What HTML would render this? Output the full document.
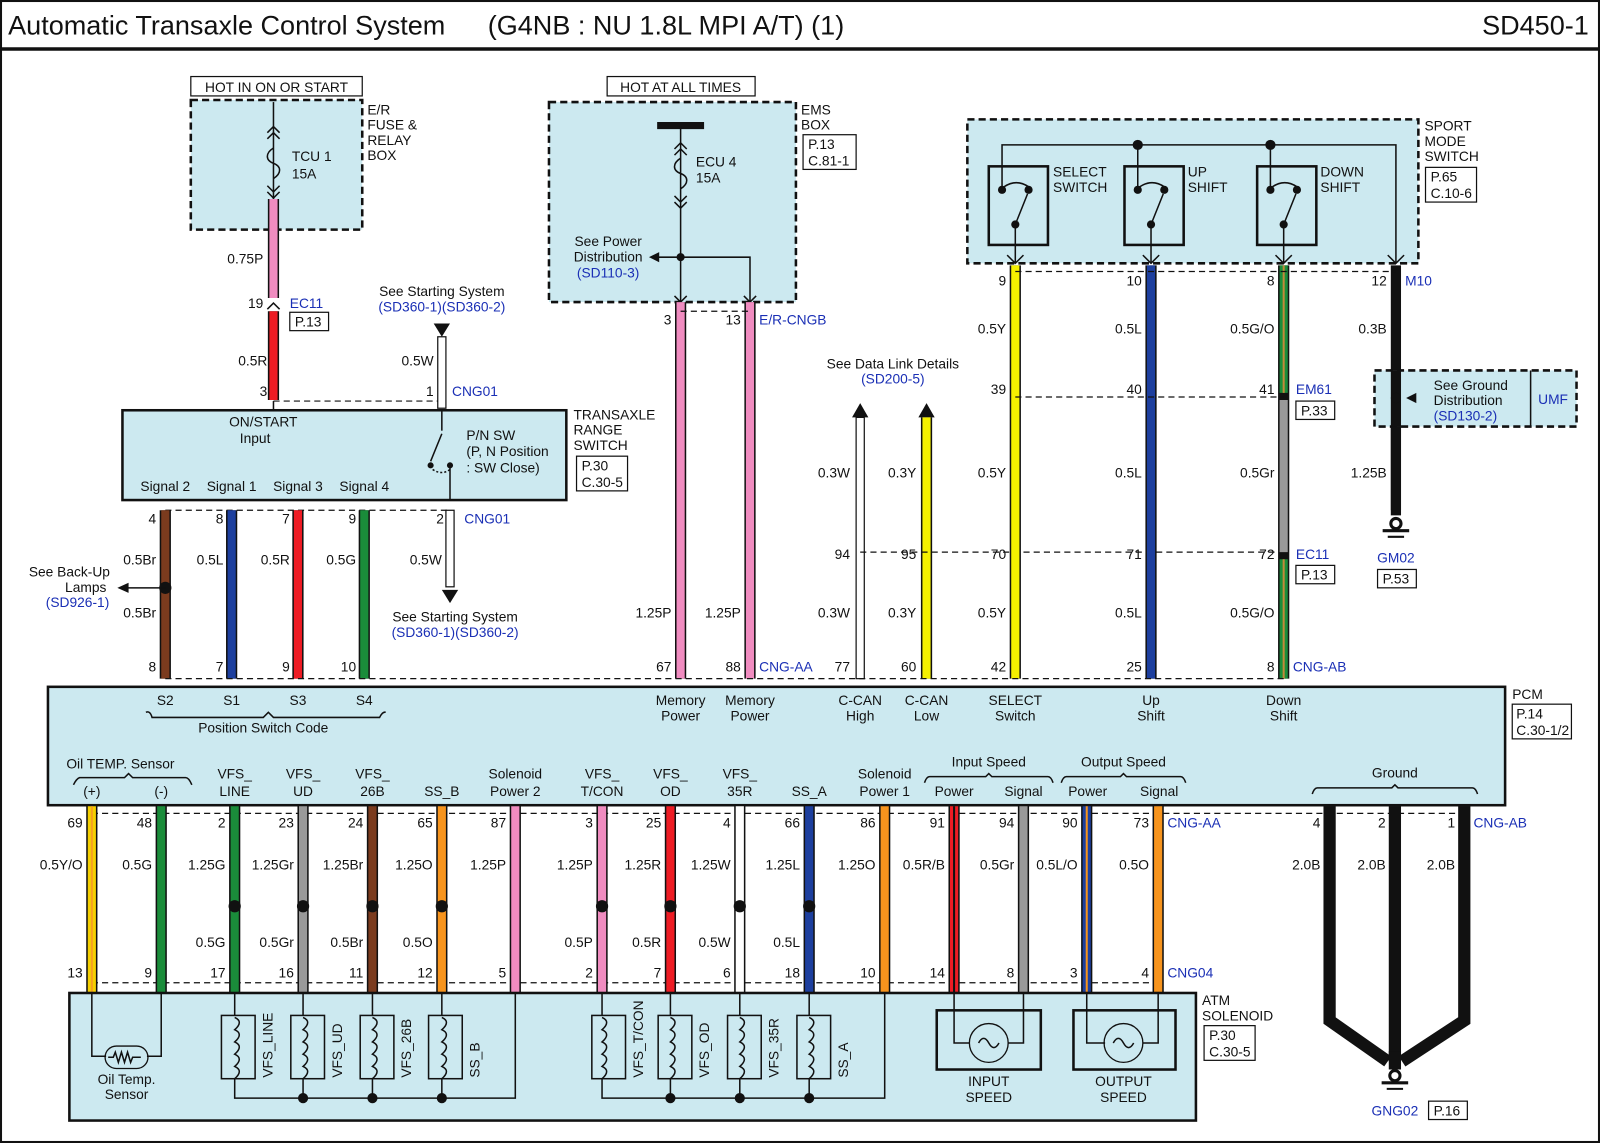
<!DOCTYPE html>
<html><head><meta charset="utf-8"><style>
html,body{margin:0;padding:0;background:#fff}
svg{display:block}
text{font-family:"Liberation Sans",sans-serif;font-size:13.5px;fill:#111}
.b{fill:#1a2fb5}
.m{text-anchor:middle}
.e{text-anchor:end}
.bx{fill:#cce9f0;stroke:#111;stroke-width:2.5;stroke-dasharray:7 4}
.sb{fill:#cce9f0;stroke:#111;stroke-width:2.5}
.dl{stroke:#111;stroke-width:1.2;stroke-dasharray:6 4;fill:none}
.tl{stroke:#111;stroke-width:1.5;fill:none}
.o{stroke:#111;stroke-width:11}
.ch{stroke:#111;stroke-width:1.5;fill:none}
</style></head><body>
<svg width="1600" height="1143" viewBox="0 0 1568 1120" preserveAspectRatio="none" xmlns="http://www.w3.org/2000/svg">
<rect x="1" y="1" width="1566" height="1118" fill="#fff" stroke="#111" stroke-width="2"/>
<text x="8" y="34" style="font-size:26.5px">Automatic Transaxle Control System</text>
<text x="478" y="34" style="font-size:26.5px">(G4NB : NU 1.8L MPI A/T) (1)</text>
<text x="1557" y="34" class="e" style="font-size:26.5px">SD450-1</text>
<line x1="0" y1="48" x2="1568" y2="48" stroke="#111" stroke-width="3.5"/>

<!-- E/R fuse box -->
<rect x="187" y="75" width="168" height="19" fill="#fff" stroke="#111" stroke-width="1.2"/>
<text x="271" y="90" class="m">HOT IN ON OR START</text>
<rect x="187" y="98" width="168" height="127" class="bx"/>
<text x="360" y="112">E/R</text><text x="360" y="127">FUSE &amp;</text><text x="360" y="142">RELAY</text><text x="360" y="157">BOX</text>
<line x1="268" y1="100" x2="268" y2="195" class="tl"/>
<path d="M262 130 l6 -6 l6 6 M262 136 l6 -6 l6 6 M262 188 l6 6 l6 -6 M262 182 l6 6 l6 -6" class="ch"/>
<path d="M268 145 c-8 5 -8 12 0 15 c8 3 8 10 0 15" class="tl"/>
<text x="286" y="158">TCU 1</text><text x="286" y="175">15A</text>

<!-- EMS box -->
<rect x="595" y="75" width="145" height="19" fill="#fff" stroke="#111" stroke-width="1.2"/>
<text x="667" y="90" class="m">HOT AT ALL TIMES</text>
<rect x="538" y="100" width="242" height="196" class="bx"/>
<text x="785" y="112">EMS</text><text x="785" y="127">BOX</text>
<rect x="787" y="132" width="52" height="34" fill="#fff" stroke="#111" stroke-width="1.2"/>
<text x="792" y="146">P.13</text><text x="792" y="162">C.81-1</text>
<line x1="644" y1="123" x2="690" y2="123" stroke="#111" stroke-width="7"/>
<line x1="667" y1="123" x2="667" y2="296" class="tl"/>
<path d="M661 146 l6 -6 l6 6 M661 152 l6 -6 l6 6 M661 198 l6 6 l6 -6 M661 192 l6 6 l6 -6" class="ch"/>
<path d="M667 155 c-8 5 -8 12 0 15 c8 3 8 10 0 15" class="tl"/>
<text x="682" y="163">ECU 4</text><text x="682" y="179">15A</text>
<circle cx="667" cy="252" r="4" fill="#111"/>
<path d="M667 252 H735 V296" class="tl"/>
<path d="M667 252 H645" class="tl"/><path d="M636 252 l10 -5 v10z" fill="#111"/>
<text x="596" y="241" class="m">See Power</text><text x="596" y="256" class="m">Distribution</text><text x="596" y="272" class="m b">(SD110-3)</text>
<path d="M661 290 l6 6 l6 -6 M729 290 l6 6 l6 -6" class="ch"/>

<!-- top wires left -->
<line x1="268" y1="195" x2="268" y2="292" class="o"/><line x1="268" y1="195" x2="268" y2="292" stroke="#f08cc0" stroke-width="8"/>
<text x="258" y="258" class="e">0.75P</text>
<text x="258" y="302" class="e">19</text><text x="284" y="302" class="b">EC11</text>
<rect x="284" y="306" width="38" height="18" fill="#fff" stroke="#111" stroke-width="1.2"/><text x="289" y="320">P.13</text>
<line x1="268" y1="305" x2="268" y2="392" class="o"/><line x1="268" y1="305" x2="268" y2="392" stroke="#ee1c24" stroke-width="8"/>
<text x="262" y="358" class="e">0.5R</text>
<text x="262" y="388" class="e">3</text>
<line x1="268" y1="393" x2="433" y2="393" class="dl"/>
<path d="M262 303 l6 -6 l6 6" class="ch"/>
<text x="433" y="290" class="m">See Starting System</text><text x="433" y="305" class="m b">(SD360-1)(SD360-2)</text>
<path d="M425 317 h16 l-8 13z" fill="#111"/>
<rect x="429" y="330" width="8" height="70" fill="#fff" stroke="#111" stroke-width="1.2"/>
<text x="425" y="358" class="e">0.5W</text>
<text x="425" y="388" class="e">1</text><text x="443" y="388" class="b">CNG01</text>

<!-- Transaxle range switch -->
<rect x="120" y="402" width="435" height="88" class="sb"/>
<text x="258" y="418" class="m">ON/START</text><text x="250" y="434" class="m">Input</text>
<line x1="268" y1="393" x2="268" y2="402" class="tl"/>
<text x="457" y="431">P/N SW</text><text x="457" y="447">(P, N Position</text><text x="457" y="463">: SW Close)</text>
<line x1="433" y1="402" x2="433" y2="422" class="tl"/>
<path d="M433 425 L422 452" class="tl"/><circle cx="422" cy="456" r="3" fill="#111"/><circle cx="441" cy="456" r="3" fill="#111"/>
<path d="M424 460 q9 6 17 0" class="tl" stroke-dasharray="2 2"/>
<line x1="441" y1="456" x2="441" y2="490" class="tl"/>
<text x="162" y="481" class="m">Signal 2</text><text x="227" y="481" class="m">Signal 1</text><text x="292" y="481" class="m">Signal 3</text><text x="357" y="481" class="m">Signal 4</text>
<text x="562" y="411">TRANSAXLE</text><text x="562" y="426">RANGE</text><text x="562" y="441">SWITCH</text>
<rect x="565" y="447" width="50" height="34" fill="#fff" stroke="#111" stroke-width="1.2"/><text x="570" y="461">P.30</text><text x="570" y="477">C.30-5</text>
<line x1="162" y1="500" x2="441" y2="500" class="dl"/>
<rect x="437" y="500" width="8" height="75" fill="#fff" stroke="#111" stroke-width="1.2"/>
<path d="M433 578 h16 l-8 13z" fill="#111"/>
<text x="433" y="553" class="e">0.5W</text>
<text x="435" y="513" class="e">2</text><text x="455" y="513" class="b">CNG01</text>
<text x="446" y="609" class="m">See Starting System</text><text x="446" y="624" class="m b">(SD360-1)(SD360-2)</text>

<!-- signal wires -->
<g>
<line x1="162" y1="500" x2="162" y2="665" class="o"/><line x1="162" y1="500" x2="162" y2="665" stroke="#7b3b1e" stroke-width="8"/>
<line x1="227" y1="500" x2="227" y2="665" class="o"/><line x1="227" y1="500" x2="227" y2="665" stroke="#1d3f9e" stroke-width="8"/>
<line x1="292" y1="500" x2="292" y2="665" class="o"/><line x1="292" y1="500" x2="292" y2="665" stroke="#ee1c24" stroke-width="8"/>
<line x1="357" y1="500" x2="357" y2="665" class="o"/><line x1="357" y1="500" x2="357" y2="665" stroke="#1a8c3a" stroke-width="8"/>
</g>
<text x="153" y="513" class="e">4</text><text x="219" y="513" class="e">8</text><text x="284" y="513" class="e">7</text><text x="349" y="513" class="e">9</text>
<text x="153" y="553" class="e">0.5Br</text><text x="219" y="553" class="e">0.5L</text><text x="284" y="553" class="e">0.5R</text><text x="349" y="553" class="e">0.5G</text>
<text x="153" y="605" class="e">0.5Br</text>
<circle cx="162" cy="576" r="6" fill="#111"/><line x1="162" y1="576" x2="125" y2="576" class="tl"/><path d="M115 576 l11 -5 v10z" fill="#111"/>
<text x="68" y="565" class="m">See Back-Up</text><text x="84" y="580" class="m">Lamps</text><text x="76" y="595" class="m b">(SD926-1)</text>
<text x="153" y="658" class="e">8</text><text x="219" y="658" class="e">7</text><text x="284" y="658" class="e">9</text><text x="349" y="658" class="e">10</text>

<!-- memory power wires -->
<line x1="667" y1="296" x2="667" y2="665" class="o"/><line x1="667" y1="296" x2="667" y2="665" stroke="#f08cc0" stroke-width="8"/>
<line x1="735" y1="296" x2="735" y2="665" class="o"/><line x1="735" y1="296" x2="735" y2="665" stroke="#f08cc0" stroke-width="8"/>
<text x="658" y="318" class="e">3</text><text x="726" y="318" class="e">13</text><text x="744" y="318" class="b">E/R-CNGB</text>
<line x1="667" y1="305" x2="735" y2="305" class="dl"/>
<text x="658" y="605" class="e">1.25P</text><text x="726" y="605" class="e">1.25P</text>
<text x="658" y="658" class="e">67</text><text x="726" y="658" class="e">88</text><text x="744" y="658" class="b">CNG-AA</text>

<!-- data link -->
<text x="875" y="361" class="m">See Data Link Details</text><text x="875" y="376" class="m b">(SD200-5)</text>
<path d="M835 409 h16 l-8 -14z M900 409 h16 l-8 -14z" fill="#111"/>
<rect x="839" y="409" width="8" height="256" fill="#fff" stroke="#111" stroke-width="1.2"/>
<line x1="908" y1="409" x2="908" y2="665" class="o"/><line x1="908" y1="409" x2="908" y2="665" stroke="#f5f000" stroke-width="8"/>
<line x1="843" y1="541" x2="1258" y2="541" class="dl"/>
<text x="833" y="468" class="e">0.3W</text><text x="898" y="468" class="e">0.3Y</text>
<text x="833" y="548" class="e">94</text><text x="898" y="548" class="e">95</text>
<text x="833" y="605" class="e">0.3W</text><text x="898" y="605" class="e">0.3Y</text>
<text x="833" y="658" class="e">77</text><text x="898" y="658" class="e">60</text>

<!-- sport mode switch -->
<rect x="948" y="117" width="442" height="141" class="bx"/>
<text x="1396" y="128">SPORT</text><text x="1396" y="143">MODE</text><text x="1396" y="158">SWITCH</text>
<rect x="1397" y="164" width="50" height="34" fill="#fff" stroke="#111" stroke-width="1.2"/><text x="1402" y="178">P.65</text><text x="1402" y="194">C.10-6</text>
<path d="M1368 258 V142 H982 V186" class="tl"/>
<circle cx="1115" cy="142" r="5" fill="#111"/><circle cx="1245" cy="142" r="5" fill="#111"/>
<line x1="1115" y1="142" x2="1115" y2="186" class="tl"/><line x1="1245" y1="142" x2="1245" y2="186" class="tl"/>
<g fill="none" stroke="#111" stroke-width="2.5">
<rect x="969" y="163" width="58" height="77"/><rect x="1102" y="163" width="58" height="77"/><rect x="1232" y="163" width="58" height="77"/>
</g>
<g>
<circle cx="982" cy="186" r="4" fill="#111"/><circle cx="1008" cy="186" r="4" fill="#111"/><circle cx="995" cy="220" r="4" fill="#111"/>
<path d="M995 220 L1007 190 M984 183 q12 -8 24 0" class="tl"/><line x1="995" y1="220" x2="995" y2="258" class="tl"/>
<circle cx="1115" cy="186" r="4" fill="#111"/><circle cx="1141" cy="186" r="4" fill="#111"/><circle cx="1128" cy="220" r="4" fill="#111"/>
<path d="M1128 220 L1140 190 M1117 183 q12 -8 24 0" class="tl"/><line x1="1128" y1="220" x2="1128" y2="258" class="tl"/>
<circle cx="1245" cy="186" r="4" fill="#111"/><circle cx="1271" cy="186" r="4" fill="#111"/><circle cx="1258" cy="220" r="4" fill="#111"/>
<path d="M1258 220 L1270 190 M1247 183 q12 -8 24 0" class="tl"/><line x1="1258" y1="220" x2="1258" y2="258" class="tl"/>
</g>
<text x="1032" y="173">SELECT</text><text x="1032" y="188">SWITCH</text>
<text x="1164" y="173">UP</text><text x="1164" y="188">SHIFT</text>
<text x="1294" y="173">DOWN</text><text x="1294" y="188">SHIFT</text>
<path d="M987 250 l8 8 l8 -8 M1120 250 l8 8 l8 -8 M1250 250 l8 8 l8 -8 M1360 250 l8 8 l8 -8" class="ch"/>

<!-- right wires -->
<line x1="995" y1="260" x2="995" y2="665" class="o"/><line x1="995" y1="260" x2="995" y2="665" stroke="#f5f000" stroke-width="8"/>
<line x1="1128" y1="260" x2="1128" y2="665" class="o"/><line x1="1128" y1="260" x2="1128" y2="665" stroke="#1d3f9e" stroke-width="8"/>
<line x1="1258" y1="260" x2="1258" y2="665" class="o"/>
<line x1="1258" y1="260" x2="1258" y2="385" stroke="#1a8c3a" stroke-width="8"/><line x1="1258" y1="260" x2="1258" y2="385" stroke="#c08a3a" stroke-width="2"/>
<line x1="1258" y1="392" x2="1258" y2="541" stroke="#999" stroke-width="8"/>
<line x1="1258" y1="548" x2="1258" y2="665" stroke="#1a8c3a" stroke-width="8"/><line x1="1258" y1="548" x2="1258" y2="665" stroke="#c08a3a" stroke-width="2"/>
<line x1="1368" y1="260" x2="1368" y2="500" stroke="#111" stroke-width="10"/>
<line x1="995" y1="266" x2="1368" y2="266" class="dl"/>
<line x1="995" y1="389" x2="1258" y2="389" class="dl"/>
<text x="986" y="280" class="e">9</text><text x="1119" y="280" class="e">10</text><text x="1249" y="280" class="e">8</text><text x="1359" y="280" class="e">12</text><text x="1377" y="280" class="b">M10</text>
<text x="986" y="327" class="e">0.5Y</text><text x="1119" y="327" class="e">0.5L</text><text x="1249" y="327" class="e">0.5G/O</text><text x="1359" y="327" class="e">0.3B</text>
<text x="986" y="386" class="e">39</text><text x="1119" y="386" class="e">40</text><text x="1249" y="386" class="e">41</text><text x="1270" y="386" class="b">EM61</text>
<rect x="1270" y="393" width="38" height="18" fill="#fff" stroke="#111" stroke-width="1.2"/><text x="1275" y="407">P.33</text>
<text x="986" y="468" class="e">0.5Y</text><text x="1119" y="468" class="e">0.5L</text><text x="1249" y="468" class="e">0.5Gr</text><text x="1359" y="468" class="e">1.25B</text>
<text x="986" y="548" class="e">70</text><text x="1119" y="548" class="e">71</text><text x="1249" y="548" class="e">72</text><text x="1270" y="548" class="b">EC11</text>
<rect x="1270" y="554" width="38" height="18" fill="#fff" stroke="#111" stroke-width="1.2"/><text x="1275" y="568">P.13</text>
<text x="986" y="605" class="e">0.5Y</text><text x="1119" y="605" class="e">0.5L</text><text x="1249" y="605" class="e">0.5G/O</text>
<text x="986" y="658" class="e">42</text><text x="1119" y="658" class="e">25</text><text x="1249" y="658" class="e">8</text><text x="1267" y="658" class="b">CNG-AB</text>
<!-- UMF -->
<rect x="1347" y="363" width="198" height="55" class="bx"/>
<line x1="1368" y1="363" x2="1368" y2="418" stroke="#111" stroke-width="10"/>
<circle cx="1368" cy="390" r="5" fill="#111"/><path d="M1378 390 l10 -5 v10z" fill="#111"/>
<text x="1405" y="382">See Ground</text><text x="1405" y="397">Distribution</text><text x="1405" y="412" class="b">(SD130-2)</text>
<line x1="1500" y1="363" x2="1500" y2="418" stroke="#111" stroke-width="1.5"/><text x="1522" y="396" class="m b">UMF</text>
<line x1="1368" y1="418" x2="1368" y2="505" stroke="#111" stroke-width="10"/>
<circle cx="1368" cy="513" r="5" fill="none" stroke="#111" stroke-width="3"/>
<line x1="1355" y1="520" x2="1381" y2="520" stroke="#111" stroke-width="3"/><line x1="1360" y1="526" x2="1376" y2="526" stroke="#111" stroke-width="2"/>
<text x="1368" y="551" class="m b">GM02</text>
<rect x="1350" y="558" width="38" height="18" fill="#fff" stroke="#111" stroke-width="1.2"/><text x="1355" y="572">P.53</text>

<line x1="162" y1="665" x2="1258" y2="665" class="dl"/>

<!-- PCM -->
<rect x="47" y="673" width="1428" height="116" class="sb"/>
<text x="1482" y="685">PCM</text>
<rect x="1482" y="690" width="58" height="34" fill="#fff" stroke="#111" stroke-width="1.2"/><text x="1486" y="704">P.14</text><text x="1486" y="720">C.30-1/2</text>
<text x="162" y="691" class="m">S2</text><text x="227" y="691" class="m">S1</text><text x="292" y="691" class="m">S3</text><text x="357" y="691" class="m">S4</text>
<path d="M143 698 q4 -2 6 5 H258 l5 -5 l5 5 H372 q3 -6 6 -5" class="tl" stroke-width="1.2"/>
<text x="258" y="718" class="m">Position Switch Code</text>
<text x="667" y="691" class="m">Memory</text><text x="667" y="706" class="m">Power</text>
<text x="735" y="691" class="m">Memory</text><text x="735" y="706" class="m">Power</text>
<text x="843" y="691" class="m">C-CAN</text><text x="843" y="706" class="m">High</text>
<text x="908" y="691" class="m">C-CAN</text><text x="908" y="706" class="m">Low</text>
<text x="995" y="691" class="m">SELECT</text><text x="995" y="706" class="m">Switch</text>
<text x="1128" y="691" class="m">Up</text><text x="1128" y="706" class="m">Shift</text>
<text x="1258" y="691" class="m">Down</text><text x="1258" y="706" class="m">Shift</text>
<text x="118" y="753" class="m">Oil TEMP. Sensor</text>
<path d="M72 769 q3 -6 6 -7 H122 l4 -4 l4 4 H182 q3 0 6 7" class="tl" stroke-width="1.2"/>
<text x="90" y="780" class="m">(+)</text><text x="158" y="780" class="m">(-)</text>
<text x="230" y="763" class="m">VFS_</text><text x="230" y="780" class="m">LINE</text>
<text x="297" y="763" class="m">VFS_</text><text x="297" y="780" class="m">UD</text>
<text x="365" y="763" class="m">VFS_</text><text x="365" y="780" class="m">26B</text>
<text x="433" y="780" class="m">SS_B</text>
<text x="505" y="763" class="m">Solenoid</text><text x="505" y="780" class="m">Power 2</text>
<text x="590" y="763" class="m">VFS_</text><text x="590" y="780" class="m">T/CON</text>
<text x="657" y="763" class="m">VFS_</text><text x="657" y="780" class="m">OD</text>
<text x="725" y="763" class="m">VFS_</text><text x="725" y="780" class="m">35R</text>
<text x="793" y="780" class="m">SS_A</text>
<text x="867" y="763" class="m">Solenoid</text><text x="867" y="780" class="m">Power 1</text>
<text x="969" y="751" class="m">Input Speed</text>
<path d="M906 767 q2 -6 5 -6 H966 l3 -3 l3 3 H1027 q3 0 5 6" class="tl" stroke-width="1.2"/>
<text x="935" y="780" class="m">Power</text><text x="1003" y="780" class="m">Signal</text>
<text x="1101" y="751" class="m">Output Speed</text>
<path d="M1040 767 q2 -6 5 -6 H1098 l3 -3 l3 3 H1157 q3 0 5 6" class="tl" stroke-width="1.2"/>
<text x="1066" y="780" class="m">Power</text><text x="1136" y="780" class="m">Signal</text>
<text x="1367" y="762" class="m">Ground</text>
<path d="M1286 778 q2 -6 5 -6 H1364 l3 -3 l3 3 H1443 q3 0 5 6" class="tl" stroke-width="1.2"/>

<!-- bottom wires -->
<line x1="90" y1="797" x2="1435" y2="797" class="dl"/>
<line x1="90" y1="963" x2="1135" y2="963" class="dl"/>
<g>
<line x1="90" y1="790" x2="90" y2="972" class="o"/><line x1="90" y1="790" x2="90" y2="972" stroke="#f5d000" stroke-width="8"/><line x1="90" y1="790" x2="90" y2="972" stroke="#f5a020" stroke-width="2"/>
<line x1="158" y1="790" x2="158" y2="972" class="o"/><line x1="158" y1="790" x2="158" y2="972" stroke="#1a8c3a" stroke-width="8"/>
<line x1="230" y1="790" x2="230" y2="972" class="o"/><line x1="230" y1="790" x2="230" y2="972" stroke="#1a8c3a" stroke-width="8"/>
<line x1="297" y1="790" x2="297" y2="972" class="o"/><line x1="297" y1="790" x2="297" y2="972" stroke="#999" stroke-width="8"/>
<line x1="365" y1="790" x2="365" y2="972" class="o"/><line x1="365" y1="790" x2="365" y2="972" stroke="#7b3b1e" stroke-width="8"/>
<line x1="433" y1="790" x2="433" y2="972" class="o"/><line x1="433" y1="790" x2="433" y2="972" stroke="#f7941d" stroke-width="8"/>
<line x1="505" y1="790" x2="505" y2="972" class="o"/><line x1="505" y1="790" x2="505" y2="972" stroke="#f08cc0" stroke-width="8"/>
<line x1="590" y1="790" x2="590" y2="972" class="o"/><line x1="590" y1="790" x2="590" y2="972" stroke="#f08cc0" stroke-width="8"/>
<line x1="657" y1="790" x2="657" y2="972" class="o"/><line x1="657" y1="790" x2="657" y2="972" stroke="#ee1c24" stroke-width="8"/>
<line x1="725" y1="790" x2="725" y2="972" class="o"/><line x1="725" y1="790" x2="725" y2="972" stroke="#fff" stroke-width="8"/>
<line x1="793" y1="790" x2="793" y2="972" class="o"/><line x1="793" y1="790" x2="793" y2="972" stroke="#1d3f9e" stroke-width="8"/>
<line x1="867" y1="790" x2="867" y2="972" class="o"/><line x1="867" y1="790" x2="867" y2="972" stroke="#f7941d" stroke-width="8"/>
<line x1="935" y1="790" x2="935" y2="972" class="o"/><line x1="935" y1="790" x2="935" y2="972" stroke="#ee1c24" stroke-width="8"/><line x1="935" y1="790" x2="935" y2="972" stroke="#111" stroke-width="2"/>
<line x1="1003" y1="790" x2="1003" y2="972" class="o"/><line x1="1003" y1="790" x2="1003" y2="972" stroke="#999" stroke-width="8"/>
<line x1="1065" y1="790" x2="1065" y2="972" class="o"/><line x1="1065" y1="790" x2="1065" y2="972" stroke="#1d3f9e" stroke-width="8"/><line x1="1065" y1="790" x2="1065" y2="972" stroke="#f7941d" stroke-width="2"/>
<line x1="1135" y1="790" x2="1135" y2="972" class="o"/><line x1="1135" y1="790" x2="1135" y2="972" stroke="#f7941d" stroke-width="8"/>
</g>
<g fill="#111">
<circle cx="230" cy="888" r="6"/><circle cx="297" cy="888" r="6"/><circle cx="365" cy="888" r="6"/><circle cx="433" cy="888" r="6"/>
<circle cx="590" cy="888" r="6"/><circle cx="657" cy="888" r="6"/><circle cx="725" cy="888" r="6"/><circle cx="793" cy="888" r="6"/>
</g>
<g>
<text x="81" y="811" class="e">69</text><text x="149" y="811" class="e">48</text><text x="221" y="811" class="e">2</text><text x="288" y="811" class="e">23</text><text x="356" y="811" class="e">24</text><text x="424" y="811" class="e">65</text><text x="496" y="811" class="e">87</text><text x="581" y="811" class="e">3</text><text x="648" y="811" class="e">25</text><text x="716" y="811" class="e">4</text><text x="784" y="811" class="e">66</text><text x="858" y="811" class="e">86</text><text x="926" y="811" class="e">91</text><text x="994" y="811" class="e">94</text><text x="1056" y="811" class="e">90</text><text x="1126" y="811" class="e">73</text>
<text x="81" y="852" class="e">0.5Y/O</text><text x="149" y="852" class="e">0.5G</text><text x="221" y="852" class="e">1.25G</text><text x="288" y="852" class="e">1.25Gr</text><text x="356" y="852" class="e">1.25Br</text><text x="424" y="852" class="e">1.25O</text><text x="496" y="852" class="e">1.25P</text><text x="581" y="852" class="e">1.25P</text><text x="648" y="852" class="e">1.25R</text><text x="716" y="852" class="e">1.25W</text><text x="784" y="852" class="e">1.25L</text><text x="858" y="852" class="e">1.25O</text><text x="926" y="852" class="e">0.5R/B</text><text x="994" y="852" class="e">0.5Gr</text><text x="1056" y="852" class="e">0.5L/O</text><text x="1126" y="852" class="e">0.5O</text>
<text x="221" y="928" class="e">0.5G</text><text x="288" y="928" class="e">0.5Gr</text><text x="356" y="928" class="e">0.5Br</text><text x="424" y="928" class="e">0.5O</text><text x="581" y="928" class="e">0.5P</text><text x="648" y="928" class="e">0.5R</text><text x="716" y="928" class="e">0.5W</text><text x="784" y="928" class="e">0.5L</text>
<text x="81" y="958" class="e">13</text><text x="149" y="958" class="e">9</text><text x="221" y="958" class="e">17</text><text x="288" y="958" class="e">16</text><text x="356" y="958" class="e">11</text><text x="424" y="958" class="e">12</text><text x="496" y="958" class="e">5</text><text x="581" y="958" class="e">2</text><text x="648" y="958" class="e">7</text><text x="716" y="958" class="e">6</text><text x="784" y="958" class="e">18</text><text x="858" y="958" class="e">10</text><text x="926" y="958" class="e">14</text><text x="994" y="958" class="e">8</text><text x="1056" y="958" class="e">3</text><text x="1126" y="958" class="e">4</text>
</g>
<text x="1144" y="811" class="b">CNG-AA</text><text x="1144" y="958" class="b">CNG04</text>

<!-- ground wires -->
<path d="M1303 790 V1000 L1360 1040 M1367 790 V1040 M1435 790 V1000 L1374 1040" stroke="#111" stroke-width="12" fill="none"/>
<line x1="1367" y1="1030" x2="1367" y2="1048" stroke="#111" stroke-width="12"/>
<circle cx="1367" cy="1054" r="5" fill="none" stroke="#111" stroke-width="3"/>
<line x1="1354" y1="1061" x2="1380" y2="1061" stroke="#111" stroke-width="3"/><line x1="1359" y1="1067" x2="1375" y2="1067" stroke="#111" stroke-width="2"/>
<text x="1294" y="811" class="e">4</text><text x="1358" y="811" class="e">2</text><text x="1426" y="811" class="e">1</text><text x="1444" y="811" class="b">CNG-AB</text>
<text x="1294" y="852" class="e">2.0B</text><text x="1358" y="852" class="e">2.0B</text><text x="1426" y="852" class="e">2.0B</text>
<text x="1367" y="1093" class="m b">GNG02</text>
<rect x="1400" y="1079" width="38" height="18" fill="#fff" stroke="#111" stroke-width="1.2"/><text x="1405" y="1093">P.16</text>

<!-- ATM solenoid -->
<rect x="68" y="973" width="1104" height="125" class="sb"/>
<text x="1178" y="985">ATM</text><text x="1178" y="1000">SOLENOID</text>
<rect x="1180" y="1005" width="50" height="34" fill="#fff" stroke="#111" stroke-width="1.2"/><text x="1185" y="1019">P.30</text><text x="1185" y="1035">C.30-5</text>
<path d="M90 973 V1035 H104 M158 973 V1035 H144" class="tl"/>
<rect x="103" y="1025" width="42" height="22" rx="11" fill="none" stroke="#111" stroke-width="1.3"/>
<path d="M106 1036 h5 l2 -5 l3 10 l3 -10 l3 10 l3 -10 l3 10 l2 -5 h8" class="tl" stroke-width="1.2"/>
<text x="124" y="1062" class="m">Oil Temp.</text><text x="124" y="1077" class="m">Sensor</text>
<g class="tl" stroke-width="1.3">
<rect x="217" y="995" width="33" height="62"/><rect x="285" y="995" width="33" height="62"/><rect x="353" y="995" width="33" height="62"/><rect x="420" y="995" width="33" height="62"/>
<rect x="580" y="995" width="33" height="62"/><rect x="645" y="995" width="33" height="62"/><rect x="713" y="995" width="33" height="62"/><rect x="781" y="995" width="33" height="62"/>
<path d="M230 973 V995 M297 973 V995 M365 973 V995 M433 973 V995 M590 973 V995 M657 973 V995 M725 973 V995 M793 973 V995"/>
<path d="M230 1057 V1076 H505 V973 M297 1057 V1076 M365 1057 V1076 M433 1057 V1076"/>
<path d="M590 1057 V1076 H867 V973 M657 1057 V1076 M725 1057 V1076 M793 1057 V1076"/>
<path d="M230 997 q9 4 0 12 q9 4 0 12 q9 4 0 12 q9 4 0 12 q9 4 0 12 M297 997 q9 4 0 12 q9 4 0 12 q9 4 0 12 q9 4 0 12 q9 4 0 12 M365 997 q9 4 0 12 q9 4 0 12 q9 4 0 12 q9 4 0 12 q9 4 0 12 M433 997 q9 4 0 12 q9 4 0 12 q9 4 0 12 q9 4 0 12 q9 4 0 12"/>
<path d="M590 997 q9 4 0 12 q9 4 0 12 q9 4 0 12 q9 4 0 12 q9 4 0 12 M657 997 q9 4 0 12 q9 4 0 12 q9 4 0 12 q9 4 0 12 q9 4 0 12 M725 997 q9 4 0 12 q9 4 0 12 q9 4 0 12 q9 4 0 12 q9 4 0 12 M793 997 q9 4 0 12 q9 4 0 12 q9 4 0 12 q9 4 0 12 q9 4 0 12"/>
</g>
<g fill="#111">
<circle cx="297" cy="1076" r="5"/><circle cx="365" cy="1076" r="5"/><circle cx="433" cy="1076" r="5"/>
<circle cx="657" cy="1076" r="5"/><circle cx="725" cy="1076" r="5"/><circle cx="793" cy="1076" r="5"/>
</g>
<g style="font-size:14px">
<text transform="translate(267 1056) rotate(-90)">VFS_LINE</text>
<text transform="translate(335 1056) rotate(-90)">VFS_UD</text>
<text transform="translate(403 1056) rotate(-90)">VFS_26B</text>
<text transform="translate(470 1056) rotate(-90)">SS_B</text>
<text transform="translate(630 1056) rotate(-90)">VFS_T/CON</text>
<text transform="translate(695 1056) rotate(-90)">VFS_OD</text>
<text transform="translate(763 1056) rotate(-90)">VFS_35R</text>
<text transform="translate(831 1056) rotate(-90)">SS_A</text>
</g>
<rect x="918" y="990" width="102" height="58" fill="none" stroke="#111" stroke-width="2.5"/>
<rect x="1052" y="990" width="100" height="58" fill="none" stroke="#111" stroke-width="2.5"/>
<path d="M935 973 V1022 H950 M1003 973 V1022 H988 M1065 973 V1022 H1083 M1135 973 V1022 H1120" class="tl"/>
<circle cx="969" cy="1022" r="19" fill="none" stroke="#111" stroke-width="1.3"/>
<circle cx="1101" cy="1022" r="19" fill="none" stroke="#111" stroke-width="1.3"/>
<path d="M959 1022 q5 -9 10 0 q5 9 10 0 M1091 1022 q5 -9 10 0 q5 9 10 0" class="tl" stroke-width="1.2"/>
<text x="969" y="1064" class="m">INPUT</text><text x="969" y="1080" class="m">SPEED</text>
<text x="1101" y="1064" class="m">OUTPUT</text><text x="1101" y="1080" class="m">SPEED</text>
</svg>
</body></html>
